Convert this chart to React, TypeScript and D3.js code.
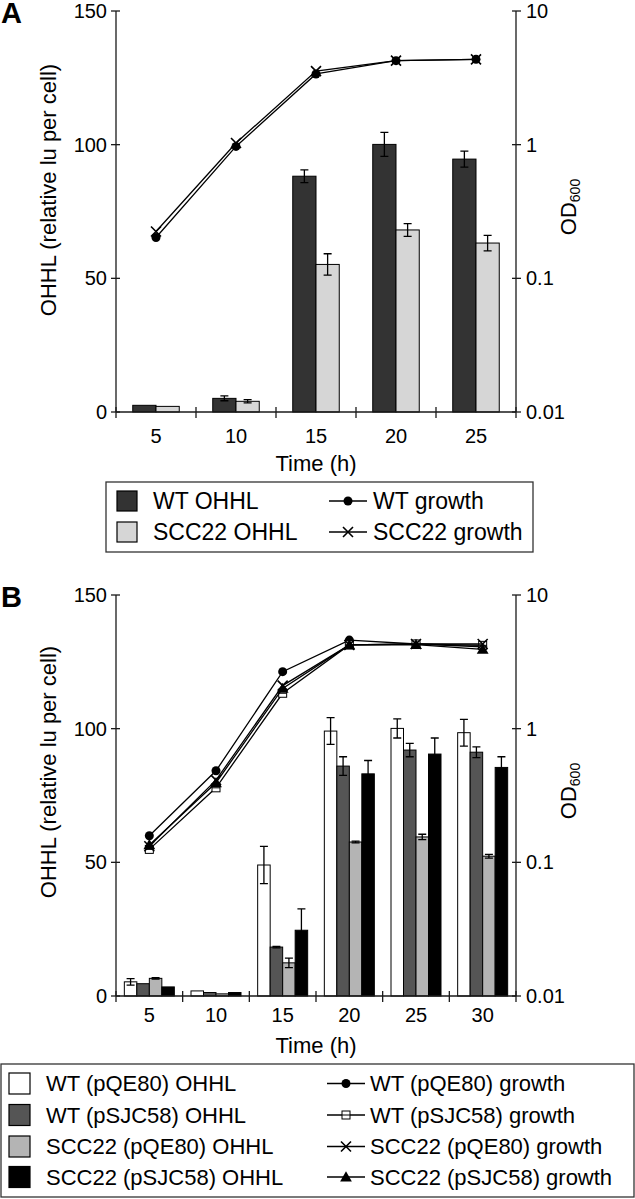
import React from 'react';
import * as d3 from 'd3';

const FONT = '"Liberation Sans", Arial, Helvetica, sans-serif';

// ---- panel A ----
const timesA = ['5', '10', '15', '20', '25'];
const wtOhhlA = [2.5, 5.1, 88.2, 100.1, 94.6];
const wtOhhlErrA = [0, 0.9, 2.4, 4.5, 3.0];
const sccOhhlA = [2.1, 4.0, 55.2, 68.1, 63.2];
const sccOhhlErrA = [0, 0.6, 4.0, 2.4, 2.9];
const wtGrowthA = [0.202, 0.97, 3.38, 4.25, 4.35];
const sccGrowthA = [0.224, 1.03, 3.55, 4.25, 4.35];

// ---- panel B ----
const timesB = ['5', '10', '15', '20', '25', '30'];
const wtPqeB = [5.3, 1.9, 49.0, 99.1, 100.1, 98.5];
const wtPqeErrB = [1.2, 0, 7, 5, 3.6, 5];
const wtPsjB = [4.6, 1.3, 18.3, 86.0, 92.0, 91.2];
const wtPsjErrB = [0, 0, 0.3, 3.5, 2.5, 2];
const sccPqeB = [6.6, 0.8, 12.4, 57.6, 59.5, 52.3];
const sccPqeErrB = [0.3, 0, 1.8, 0.3, 1, 0.7];
const sccPsjB = [3.4, 1.3, 24.6, 83.1, 90.5, 85.5];
const sccPsjErrB = [0, 0, 8, 5, 6, 4];
const wtPqeGrowthB = [0.158, 0.484, 2.67, 4.6, 4.3, 4.1];
const wtPsjGrowthB = [0.125, 0.361, 1.84, 4.23, 4.3, 4.2];
const sccPqeGrowthB = [0.132, 0.412, 2.1, 4.23, 4.3, 4.3];
const sccPsjGrowthB = [0.135, 0.394, 2.0, 4.23, 4.25, 3.92];

const ohhlTicks = [0, 50, 100, 150];

type BarSeries = { name: string; values: number[]; errors: number[]; fill: string };
type LineSeries = { name: string; values: number[]; marker: string };

const barsA: BarSeries[] = [
  { name: 'WT OHHL', values: wtOhhlA, errors: wtOhhlErrA, fill: '#333333' },
  { name: 'SCC22 OHHL', values: sccOhhlA, errors: sccOhhlErrA, fill: '#d6d6d6' },
];
const linesA: LineSeries[] = [
  { name: 'WT growth', values: wtGrowthA, marker: 'circle' },
  { name: 'SCC22 growth', values: sccGrowthA, marker: 'cross' },
];
const barsB: BarSeries[] = [
  { name: 'WT (pQE80) OHHL', values: wtPqeB, errors: wtPqeErrB, fill: '#ffffff' },
  { name: 'WT (pSJC58) OHHL', values: wtPsjB, errors: wtPsjErrB, fill: '#555555' },
  { name: 'SCC22 (pQE80) OHHL', values: sccPqeB, errors: sccPqeErrB, fill: '#b4b4b4' },
  { name: 'SCC22 (pSJC58) OHHL', values: sccPsjB, errors: sccPsjErrB, fill: '#000000' },
];
const linesB: LineSeries[] = [
  { name: 'WT (pQE80) growth', values: wtPqeGrowthB, marker: 'circle' },
  { name: 'WT (pSJC58) growth', values: wtPsjGrowthB, marker: 'square' },
  { name: 'SCC22 (pQE80) growth', values: sccPqeGrowthB, marker: 'cross' },
  { name: 'SCC22 (pSJC58) growth', values: sccPsjGrowthB, marker: 'triangle' },
];

function Marker({ kind, x, y }: { kind: string; x: number; y: number }) {
  if (kind === 'circle') return <circle cx={x} cy={y} r={4.5} fill="#000" />;
  if (kind === 'cross')
    return (
      <path d={`M${x - 5},${y - 5}L${x + 5},${y + 5}M${x - 5},${y + 5}L${x + 5},${y - 5}`} stroke="#000" strokeWidth={1.6} />
    );
  if (kind === 'square')
    return (
      <g>
        <rect x={x - 4} y={y - 4} width={8} height={8} fill="#fff" stroke="#000" strokeWidth={1} />
        <line x1={x - 4} x2={x + 4} y1={y} y2={y} stroke="#000" strokeWidth={1} />
      </g>
    );
  const tri = d3.symbol(d3.symbolTriangle, 60)();
  return <path d={tri || ''} transform={`translate(${x},${y + 1})`} fill="#000" />;
}

function Panel(props: {
  letter: string;
  top: number;
  times: string[];
  bars: BarSeries[];
  lines: LineSeries[];
  groupWidth: number;
  labelGap: number;
  titleGap: number;
  titleY: number;
  odY: number;
}) {
  const { letter, top, times, bars, lines, groupWidth, labelGap, titleGap, titleY, odY } = props;
  const left = 116;
  const right = 516;
  const bottom = top + 401;

  const x = d3.scaleBand().domain(times).range([left, right]);
  const bw = x.bandwidth();
  const sub = d3
    .scaleBand()
    .domain(bars.map(b => b.name))
    .range([(bw - groupWidth) / 2, (bw + groupWidth) / 2]);
  const y = d3.scaleLinear().domain([0, 150]).range([bottom, top]);
  const y2 = d3.scaleLog().domain([0.01, 10]).range([bottom, top]);
  const logTicks = y2.ticks().filter(t => Math.abs(Math.log10(t) - Math.round(Math.log10(t))) < 1e-6);
  const fmt = d3.format('~g');
  const cx = (t: string) => (x(t) as number) + bw / 2;
  const line = d3
    .line<number>()
    .x((_, i) => cx(times[i]))
    .y(d => y2(d));
  const bounds = times.map(t => x(t) as number).concat([right]);

  return (
    <g fontFamily={FONT}>
      <text x={1} y={top + 12} fontSize={29} fontWeight="bold">
        {letter}
      </text>

      {/* bars */}
      {bars.map(s => (
        <g key={s.name}>
          {s.values.map((v, i) => {
            const bx = (x(times[i]) as number) + (sub(s.name) as number);
            const w = sub.bandwidth();
            const e = s.errors[i];
            const mx = bx + w / 2;
            return (
              <g key={i}>
                <rect x={bx} y={y(v)} width={w} height={bottom - y(v)} fill={s.fill} stroke="#000" strokeWidth={1} />
                {e > 0 && (
                  <path
                    d={`M${mx},${y(v + e)}V${y(v - e)}M${mx - 4},${y(v + e)}H${mx + 4}M${mx - 4},${y(v - e)}H${mx + 4}`}
                    stroke="#000"
                    strokeWidth={1.3}
                    fill="none"
                  />
                )}
              </g>
            );
          })}
        </g>
      ))}

      {/* growth lines */}
      {lines.map(s => (
        <g key={s.name}>
          <path d={line(s.values) || ''} fill="none" stroke="#000" strokeWidth={1.3} />
          {s.values.map((v, i) => (
            <Marker key={i} kind={s.marker} x={cx(times[i])} y={y2(v)} />
          ))}
        </g>
      ))}

      {/* axes */}
      <g stroke="#1a1a1a" strokeWidth={1.3}>
        <line x1={left} x2={left} y1={top} y2={bottom} />
        <line x1={right} x2={right} y1={top} y2={bottom} />
        <line x1={left} x2={right} y1={bottom} y2={bottom} />
        {ohhlTicks.map(t => (
          <line key={t} x1={left - 5} x2={left + 4} y1={y(t)} y2={y(t)} />
        ))}
        {logTicks.map(t => (
          <line key={t} x1={right - 4} x2={right + 5} y1={y2(t)} y2={y2(t)} />
        ))}
        {bounds.map((b, i) => (
          <line key={i} x1={b} x2={b} y1={bottom - 5} y2={bottom + 6} />
        ))}
      </g>
      <g fontSize={20} fill="#000">
        {ohhlTicks.map(t => (
          <text key={t} x={left - 9} y={y(t)} dy="0.35em" textAnchor="end">
            {t}
          </text>
        ))}
        {logTicks.map(t => (
          <text key={t} x={right + 10} y={y2(t)} dy="0.35em" textAnchor="start">
            {fmt(t)}
          </text>
        ))}
        {times.map(t => (
          <text key={t} x={cx(t)} y={bottom + labelGap} textAnchor="middle">
            {t}
          </text>
        ))}
      </g>
      <text x={(left + right) / 2} y={bottom + titleGap} textAnchor="middle" fontSize={22}>
        Time (h)
      </text>
      <text transform={`translate(56,${titleY}) rotate(-90)`} textAnchor="middle" fontSize={22}>
        OHHL (relative lu per cell)
      </text>
      <text transform={`translate(576,${odY}) rotate(-90)`} textAnchor="middle" fontSize={22}>
        OD<tspan fontSize={14} dy={4}>600</tspan>
      </text>
    </g>
  );
}

function Legend(props: {
  x: number;
  y: number;
  w: number;
  h: number;
  rows: number[];
  bars: BarSeries[];
  lines: LineSeries[];
  swX: number;
  sw: number;
  textX: number;
  lineX: [number, number];
  lineTextX: number;
  fontSize: number;
}) {
  const { x, y, w, h, rows, bars, lines, swX, sw, textX, lineX, lineTextX, fontSize } = props;
  return (
    <g fontFamily={FONT} fontSize={fontSize}>
      <rect x={x} y={y} width={w} height={h} fill="#fff" stroke="#333" strokeWidth={1.3} />
      {bars.map((b, i) => (
        <g key={b.name}>
          <rect x={swX} y={rows[i] - sw / 2} width={sw} height={sw} fill={b.fill} stroke="#000" strokeWidth={1.2} />
          <text x={textX} y={rows[i]} dy="0.35em">
            {b.name}
          </text>
        </g>
      ))}
      {lines.map((l, i) => (
        <g key={l.name}>
          <line x1={lineX[0]} x2={lineX[1]} y1={rows[i]} y2={rows[i]} stroke="#000" strokeWidth={1.3} />
          <Marker kind={l.marker} x={(lineX[0] + lineX[1]) / 2} y={rows[i]} />
          <text x={lineTextX} y={rows[i]} dy="0.35em">
            {l.name}
          </text>
        </g>
      ))}
    </g>
  );
}

export default function App() {
  return (
    <svg width={635} height={1199} style={{ position: 'absolute', left: 0, top: 0, background: '#fff' }}>
      <rect width={635} height={1199} fill="#fff" />
      <Panel
        letter="A"
        top={11}
        times={timesA}
        bars={barsA}
        lines={linesA}
        groupWidth={46.5}
        labelGap={31}
        titleGap={59}
        titleY={190}
        odY={207}
      />
      <Legend
        x={106}
        y={482}
        w={427}
        h={70}
        rows={[501, 532]}
        bars={barsA}
        lines={linesA}
        swX={117}
        sw={20}
        textX={153}
        lineX={[329, 367]}
        lineTextX={373}
        fontSize={23}
      />
      <Panel
        letter="B"
        top={595}
        times={timesB}
        bars={barsB}
        lines={linesB}
        groupWidth={50}
        labelGap={26}
        titleGap={57}
        titleY={772}
        odY={791}
      />
      <Legend
        x={1}
        y={1064}
        w={633}
        h={133}
        rows={[1083.5, 1115, 1146.5, 1177]}
        bars={barsB}
        lines={linesB}
        swX={9}
        sw={21}
        textX={46}
        lineX={[327, 365]}
        lineTextX={370}
        fontSize={22}
      />
    </svg>
  );
}
